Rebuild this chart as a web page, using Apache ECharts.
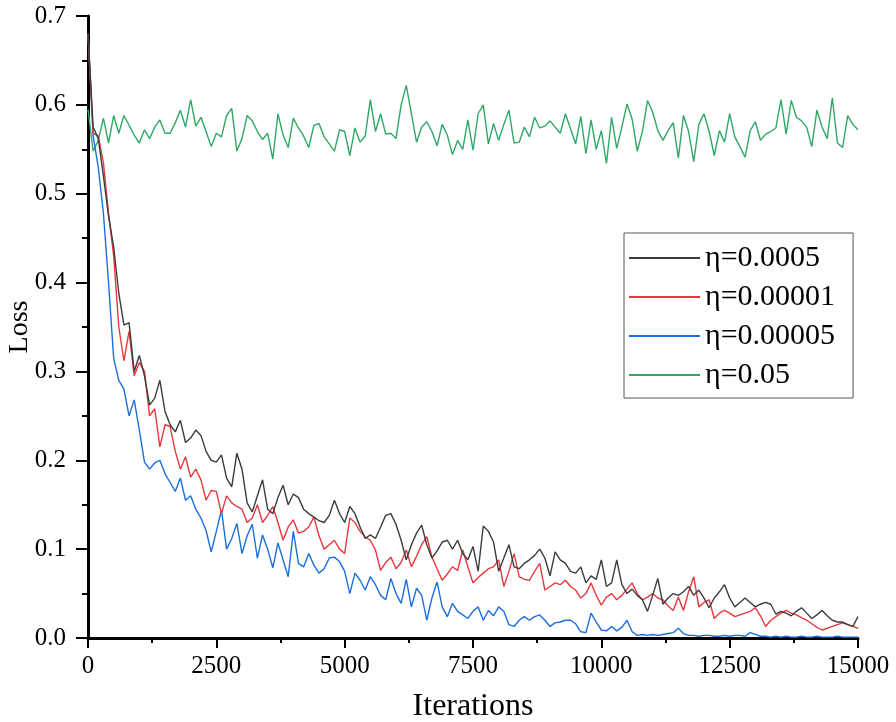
<!DOCTYPE html>
<html>
<head>
<meta charset="utf-8">
<script src="https://cdn.jsdelivr.net/npm/echarts@6/dist/echarts.min.js"></script>
<style>
html,body{margin:0;padding:0;background:#fff;}
#chart{width:896px;height:722px;}
</style>
</head>
<body>
<div id="chart"></div>
<script>
// Iteration step between samples
var STEP = 100;
var seriesNames = ['η=0.0005', 'η=0.00001', 'η=0.00005', 'η=0.05'];
var xTicks = [0, 2500, 5000, 7500, 10000, 12500, 15000];
var yTicks = [0.0, 0.1, 0.2, 0.3, 0.4, 0.5, 0.6, 0.7];

var lossBlack = [0.68,0.575,0.562,0.52,0.475,0.44,0.388,0.352,0.355,0.30,
0.318,0.295,0.262,0.27,0.29,0.255,0.24,0.232,0.245,0.22,
0.225,0.234,0.228,0.21,0.20,0.198,0.206,0.18,0.17,0.208,
0.19,0.152,0.142,0.16,0.178,0.145,0.14,0.158,0.172,0.15,
0.162,0.158,0.145,0.14,0.136,0.132,0.13,0.138,0.155,0.14,
0.13,0.148,0.14,0.125,0.112,0.116,0.112,0.125,0.138,0.14,
0.128,0.11,0.088,0.105,0.118,0.127,0.105,0.09,0.098,0.108,
0.11,0.10,0.11,0.095,0.088,0.103,0.075,0.126,0.12,0.108,
0.075,0.09,0.105,0.08,0.078,0.084,0.088,0.093,0.10,0.09,
0.07,0.097,0.088,0.084,0.075,0.073,0.08,0.062,0.07,0.066,
0.088,0.058,0.062,0.088,0.06,0.05,0.055,0.048,0.043,0.03,
0.048,0.067,0.038,0.045,0.05,0.048,0.052,0.058,0.048,0.054,
0.045,0.034,0.045,0.052,0.06,0.045,0.035,0.04,0.045,0.04,
0.035,0.038,0.04,0.038,0.027,0.03,0.028,0.025,0.03,0.034,
0.028,0.022,0.026,0.031,0.025,0.02,0.018,0.018,0.015,0.013,
0.024];

var lossRed = [0.68,0.568,0.565,0.535,0.478,0.43,0.35,0.312,0.345,0.295,
0.31,0.30,0.25,0.258,0.215,0.24,0.238,0.21,0.19,0.204,
0.181,0.19,0.178,0.155,0.166,0.165,0.14,0.16,0.152,0.148,
0.145,0.13,0.135,0.15,0.13,0.138,0.148,0.13,0.11,0.125,
0.133,0.118,0.12,0.125,0.136,0.115,0.10,0.105,0.11,0.10,
0.095,0.135,0.13,0.12,0.114,0.11,0.099,0.076,0.085,0.091,
0.078,0.085,0.099,0.08,0.092,0.105,0.114,0.091,0.078,0.065,
0.072,0.08,0.076,0.099,0.08,0.062,0.068,0.073,0.078,0.08,
0.088,0.058,0.075,0.095,0.069,0.066,0.065,0.075,0.084,0.054,
0.058,0.062,0.06,0.065,0.058,0.054,0.045,0.05,0.062,0.048,
0.037,0.046,0.05,0.043,0.048,0.055,0.062,0.05,0.043,0.046,
0.05,0.045,0.043,0.036,0.031,0.046,0.031,0.052,0.069,0.035,
0.04,0.043,0.022,0.028,0.031,0.028,0.024,0.026,0.028,0.03,
0.034,0.025,0.013,0.02,0.024,0.028,0.031,0.028,0.026,0.023,
0.02,0.016,0.012,0.009,0.011,0.013,0.015,0.017,0.015,0.013,
0.011];

var lossBlue = [0.68,0.565,0.53,0.478,0.40,0.315,0.29,0.28,0.25,0.268,
0.234,0.198,0.19,0.197,0.20,0.185,0.175,0.165,0.18,0.155,
0.16,0.145,0.135,0.121,0.097,0.12,0.144,0.10,0.112,0.129,
0.095,0.115,0.128,0.09,0.116,0.10,0.079,0.107,0.088,0.069,
0.12,0.084,0.08,0.095,0.082,0.073,0.078,0.09,0.091,0.086,
0.075,0.05,0.073,0.065,0.054,0.069,0.06,0.048,0.043,0.067,
0.05,0.039,0.066,0.035,0.056,0.048,0.02,0.045,0.063,0.035,
0.024,0.039,0.03,0.026,0.022,0.03,0.035,0.02,0.031,0.025,
0.035,0.03,0.015,0.013,0.02,0.024,0.02,0.024,0.026,0.02,
0.013,0.017,0.018,0.02,0.02,0.016,0.007,0.006,0.028,0.018,
0.009,0.008,0.013,0.008,0.012,0.02,0.007,0.003,0.004,0.003,
0.004,0.003,0.004,0.005,0.006,0.011,0.005,0.003,0.003,0.002,
0.003,0.003,0.002,0.002,0.003,0.002,0.003,0.003,0.002,0.006,
0.004,0.002,0.002,0.001,0.002,0.001,0.002,0.001,0.001,0.002,
0.001,0.001,0.002,0.001,0.001,0.001,0.002,0.001,0.001,0.001,
0.001];

var lossGreen = [0.595,0.548,0.56,0.585,0.557,0.588,0.568,0.588,0.577,0.566,
0.557,0.572,0.562,0.575,0.583,0.568,0.568,0.58,0.594,0.575,
0.606,0.576,0.586,0.57,0.553,0.568,0.564,0.588,0.596,0.548,
0.562,0.588,0.582,0.57,0.561,0.568,0.539,0.59,0.566,0.552,
0.585,0.574,0.565,0.552,0.577,0.579,0.564,0.556,0.548,0.572,
0.57,0.543,0.574,0.558,0.565,0.606,0.57,0.59,0.567,0.568,
0.562,0.60,0.622,0.59,0.558,0.575,0.581,0.57,0.554,0.578,
0.566,0.544,0.56,0.55,0.583,0.549,0.59,0.60,0.556,0.579,
0.56,0.578,0.594,0.557,0.558,0.575,0.564,0.586,0.574,0.576,
0.582,0.575,0.568,0.59,0.573,0.556,0.587,0.545,0.583,0.55,
0.571,0.534,0.586,0.551,0.575,0.601,0.584,0.548,0.57,0.605,
0.592,0.571,0.56,0.571,0.58,0.54,0.588,0.57,0.536,0.578,
0.59,0.57,0.543,0.571,0.558,0.59,0.564,0.553,0.541,0.571,
0.581,0.56,0.567,0.57,0.574,0.606,0.567,0.605,0.586,0.582,
0.575,0.553,0.594,0.575,0.562,0.608,0.557,0.552,0.588,0.578,
0.572];

var colors = ['#3c3c3c', '#e8383d', '#1a6fdf', '#2ea866'];
var allLoss = [lossBlack, lossRed, lossBlue, lossGreen];

function toPairs(arr) {
  var out = [];
  for (var i = 0; i < arr.length; i++) out.push([i * STEP, arr[i]]);
  return out;
}

var FONT = '"Liberation Serif", "Times New Roman", serif';
var chart = echarts.init(document.getElementById('chart'), null, {renderer: 'canvas'});

var series = seriesNames.map(function (n, i) {
  return {
    name: n,
    type: 'line',
    data: toPairs(allLoss[i]),
    showSymbol: false,
    symbol: 'none',
    lineStyle: {color: colors[i], width: 1.4},
    itemStyle: {color: colors[i]},
    z: i === 3 ? 2 : 5 - i
  };
});

chart.setOption({
  animation: false,
  backgroundColor: '#fff',
  grid: {left: 88, right: 38, top: 16, bottom: 84, containLabel: false, outerBoundsMode: 'none'},
  xAxis: {
    type: 'value',
    min: xTicks[0], max: xTicks[xTicks.length - 1], interval: 2500,
    name: 'Iterations', nameLocation: 'middle', nameGap: 53, nameMoveOverlap: false,
    nameTextStyle: {fontFamily: FONT, fontSize: 32, color: '#000'},
    axisLine: {show: true, onZero: false, lineStyle: {color: '#000', width: 3}},
    axisTick: {show: true, inside: false, length: 10, lineStyle: {color: '#000', width: 2}},
    minorTick: {show: true, splitNumber: 2, length: 5, lineStyle: {color: '#000', width: 2}},
    axisLabel: {fontFamily: FONT, fontSize: 25, color: '#000', margin: 16,
      formatter: function (v) { return String(v); }},
    splitLine: {show: false}
  },
  yAxis: {
    type: 'value',
    min: yTicks[0], max: yTicks[yTicks.length - 1], interval: 0.1,
    name: 'Loss', nameLocation: 'middle', nameGap: 54, nameMoveOverlap: false,
    nameTextStyle: {fontFamily: FONT, fontSize: 28, color: '#000'},
    axisLine: {show: true, onZero: false, lineStyle: {color: '#000', width: 3}},
    axisTick: {show: true, inside: false, length: 12, lineStyle: {color: '#000', width: 2}},
    minorTick: {show: true, splitNumber: 2, length: 6, lineStyle: {color: '#000', width: 2}},
    axisLabel: {fontFamily: FONT, fontSize: 25, color: '#000', margin: 22,
      formatter: function (v) { return v.toFixed(1); }},
    splitLine: {show: false}
  },
  legend: {
    orient: 'vertical',
    left: 624, top: 233,
    data: seriesNames,
    icon: 'rect',
    itemWidth: 71, itemHeight: 2,
    itemGap: 9,
    padding: [10, 18, 8, 5],
    borderColor: '#555', borderWidth: 1,
    textStyle: {fontFamily: FONT, fontSize: 30, color: '#000', lineHeight: 30}
  },
  series: series
});
</script>
</body>
</html>
